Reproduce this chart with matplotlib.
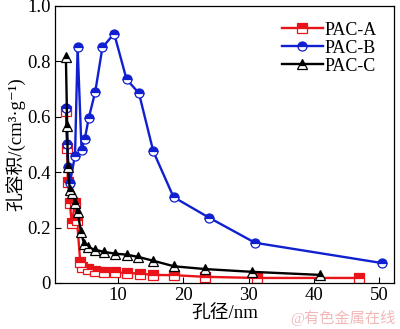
import matplotlib
matplotlib.use("Agg")
import matplotlib.pyplot as plt

plt.rcParams['font.family'] = ['Liberation Serif', 'Noto Sans CJK SC', 'DejaVu Sans']

# pore diameter (nm) / pore volume (cm3/g)
d_a = [2.0, 2.2, 2.3, 2.6, 2.9, 3.4, 3.7, 4.2, 4.5, 5.4, 6.5, 7.8, 9.5, 11.3, 13.3, 15.4, 18.6, 23.4, 31.3, 47.0]
v_a = [0.62, 0.487, 0.365, 0.29, 0.215, 0.29, 0.228, 0.075, 0.058, 0.05, 0.044, 0.04, 0.038, 0.036, 0.034, 0.029, 0.028, 0.022, 0.018, 0.018]

d_b = [2.0, 2.2, 2.4, 2.6, 3.4, 3.8, 4.4, 4.9, 5.5, 6.5, 7.6, 9.4, 11.3, 13.2, 15.4, 18.5, 24.0, 31.0, 50.4]
v_b = [0.63, 0.50, 0.42, 0.36, 0.46, 0.85, 0.48, 0.52, 0.595, 0.69, 0.85, 0.90, 0.735, 0.685, 0.475, 0.31, 0.235, 0.145, 0.072]

d_c = [2.0, 2.2, 2.3, 2.6, 3.0, 3.4, 3.8, 4.3, 4.8, 5.4, 6.5, 7.8, 9.5, 11.3, 13.1, 15.4, 18.6, 23.4, 30.6, 41.0]
v_c = [0.815, 0.565, 0.42, 0.335, 0.325, 0.29, 0.257, 0.185, 0.14, 0.128, 0.12, 0.112, 0.106, 0.102, 0.094, 0.08, 0.06, 0.05, 0.04, 0.029]

x_ticks = [10, 20, 30, 40, 50]
y_ticks = [0, 0.2, 0.4, 0.6, 0.8, 1.0]
y_tick_labels = ['0', '0.2', '0.4', '0.6', '0.8', '1.0']

fig = plt.figure(figsize=(4.0, 3.29), dpi=100)
ax = fig.add_axes([0.137, 0.14, 0.848, 0.842])

style = dict(lw=1.7, ms=6.5, fillstyle='top', markerfacecoloralt='white', mew=0.9)
ax.plot(d_a, v_a, 's-', color='#e8141a', mec='#e8141a', label='PAC-A', **style)
ax.plot(d_b, v_b, 'o-', color='#1020d0', mec='#1020d0', label='PAC-B', **style)
ax.plot(d_c, v_c, '^-', color='black', mec='black', label='PAC-C', **style)

ax.set_xlim(0.3, 52.3)
ax.set_ylim(0, 1.0)
ax.set_xticks(x_ticks)
ax.set_yticks(y_ticks)
ax.set_yticklabels(y_tick_labels)
ax.tick_params(direction='in', length=4, width=0.8, labelsize=13.5, pad=3)
for s in ax.spines.values():
    s.set_linewidth(0.9)

ax.set_xlabel('孔径/nm', fontsize=13.5, labelpad=1)
ax.set_ylabel('孔容积/(cm³·g⁻¹)', fontsize=13.5, labelpad=1)

ax.legend(loc='upper right', frameon=False, fontsize=13, handlelength=2.3,
          handletextpad=0.1, labelspacing=0.05, borderaxespad=0.25,
          bbox_to_anchor=(0.985, 0.985))

fig.text(0.988, 0.008, '@有色金属在线', color='#f2b8b8', fontsize=11, ha='right', va='bottom')

fig.savefig('out.png', dpi=100)
